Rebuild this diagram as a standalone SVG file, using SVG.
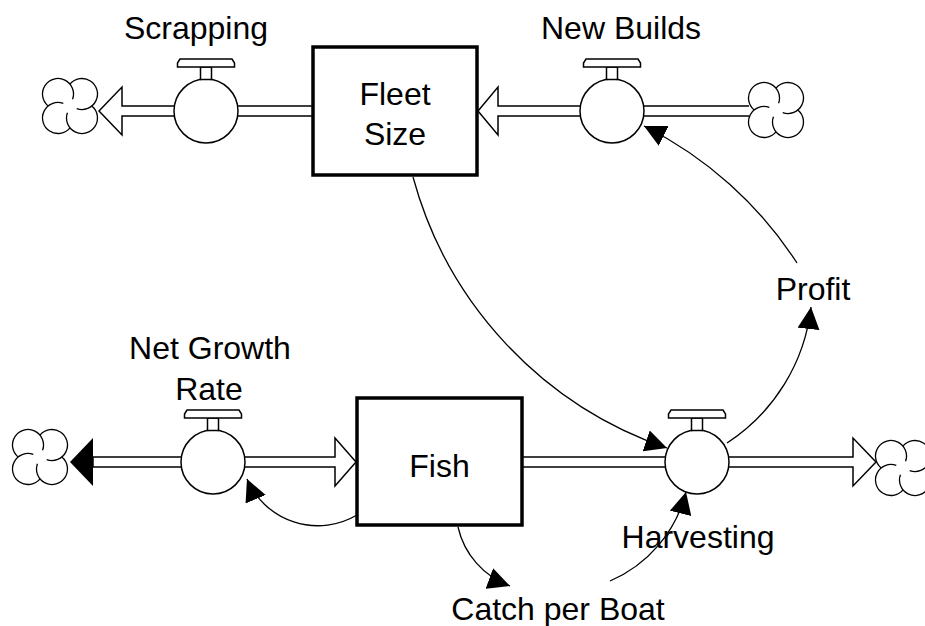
<svg xmlns="http://www.w3.org/2000/svg" xmlns:xlink="http://www.w3.org/1999/xlink" width="925" height="626" viewBox="0 0 925 626">
<style>
.pipe{fill:#fff;stroke:#000;stroke-width:1.5;stroke-linejoin:miter}
.valve circle,.valve rect,.valve polygon{fill:#fff;stroke:#000;stroke-width:1.5}
.stock{fill:#fff;stroke:#000;stroke-width:3.5}
.cloud path{fill:none;stroke:#000;stroke-width:1.3}
.conn{fill:none;stroke:#000;stroke-width:1.3}
text{font-family:"Liberation Sans",Arial,Helvetica,sans-serif;font-size:32px;fill:#000;text-anchor:middle}
</style>
<defs>
<g id="valve" class="valve">
<circle cx="0" cy="0" r="32"/>
<rect x="-5.5" y="-44" width="11" height="12.5"/>
<polygon points="-26,-52 26,-52 28.5,-48 28.5,-44 -28.5,-44 -28.5,-48"/>
</g>
<g id="cloud" class="cloud">
<circle cx="0" cy="0" r="12" fill="#fff" stroke="none"/>
<path d="M-21.81,0 A15.5,15.5 0 1 1 2.57,-6.70"/>
<path d="M0,-21.81 A15.5,15.5 0 1 1 6.70,2.57"/>
<path d="M21.81,0 A15.5,15.5 0 1 1 -2.57,6.70"/>
<path d="M0,21.81 A15.5,15.5 0 1 1 -6.70,-2.57"/>
</g>
<marker id="ah" markerUnits="userSpaceOnUse" markerWidth="22" markerHeight="22" viewBox="0 0 22 22" refX="22" refY="11" orient="auto">
<path d="M0,0 L22,11 L0,22 Z" fill="#000"/>
</marker>
</defs>
<rect width="925" height="626" fill="#fff"/>

<g id="flows">
<path id="flow-scrapping" class="pipe" d="M313,106 H122 V87 L99,111 L122,135 V116 H313"/>
<path id="flow-newbuilds" class="pipe" d="M749,106 H498 V87 L478,111 L498,135 V116 H749"/>
<path id="flow-netgrowth" class="pipe" d="M93,457 H335 V438 L356,462 L335,486 V467 H93 Z"/>
<polygon points="93,438 70,462 93,486" fill="#000"/>
<path id="flow-harvesting" class="pipe" d="M522,457 H853 V438 L876,462 L853,486 V467 H522"/>
</g>

<g id="clouds">
<use xlink:href="#cloud" href="#cloud" transform="translate(70,106)"/>
<use xlink:href="#cloud" href="#cloud" transform="translate(776,110)"/>
<use xlink:href="#cloud" href="#cloud" transform="translate(40,457)"/>
<use xlink:href="#cloud" href="#cloud" transform="translate(903,468)"/>
</g>

<g id="node-scrapping">
<use xlink:href="#valve" href="#valve" transform="translate(206,111)"/>
<text x="196" y="39">Scrapping</text>
</g>
<g id="node-newbuilds">
<use xlink:href="#valve" href="#valve" transform="translate(612,111)"/>
<text x="621" y="39">New Builds</text>
</g>
<g id="node-netgrowth">
<use xlink:href="#valve" href="#valve" transform="translate(213,462)"/>
<text x="210" y="359">Net Growth</text>
<text x="209" y="400">Rate</text>
</g>
<g id="node-harvesting">
<use xlink:href="#valve" href="#valve" transform="translate(697,462)"/>
<text x="698" y="548">Harvesting</text>
</g>
<g id="node-fleet">
<rect class="stock" x="313" y="47" width="164" height="128"/>
<text x="395" y="105">Fleet</text>
<text x="395" y="145">Size</text>
</g>
<g id="node-fish">
<rect class="stock" x="357" y="398" width="165" height="127"/>
<text x="439.5" y="477">Fish</text>
</g>
<g id="node-profit">
<text x="813" y="300">Profit</text>
</g>
<g id="node-catch">
<text x="558" y="620">Catch per Boat</text>
</g>

<g id="connectors">
<path class="conn" marker-end="url(#ah)" d="M413,177 A396,396 0 0 0 667,448"/>
<path class="conn" marker-end="url(#ah)" d="M727,443 A187,187 0 0 0 811,307"/>
<path class="conn" marker-end="url(#ah)" d="M797,263 A390,390 0 0 0 644,126"/>
<path class="conn" marker-end="url(#ah)" d="M357,515 A77,77 0 0 1 247,479"/>
<path class="conn" marker-end="url(#ah)" d="M458,527 A82,82 0 0 0 510,586"/>
<path class="conn" marker-end="url(#ah)" d="M610,581 A132,132 0 0 0 686,492"/>
</g>
</svg>
